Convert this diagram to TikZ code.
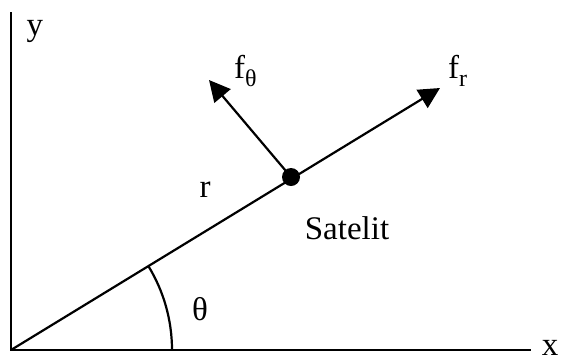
\documentclass[tikz,border=0pt]{standalone}
\usepackage{fontspec}
\setmainfont{Liberation Serif}
\usetikzlibrary{arrows.meta}
\begin{document}
\begin{tikzpicture}[x=1pt,y=-1pt,
  lbl/.style={inner sep=0pt,font=\fontsize{33}{40}\selectfont},
  axis/.style={line width=2.8pt},
  vec/.style={line width=2.2pt,-{Triangle[length=21pt,width=21pt]}}]
\useasboundingbox (0,0) rectangle (563,360);
\coordinate (O) at (11,350);
\coordinate (ytop) at (11,12);
\coordinate (xend) at (531,350);
\coordinate (frtip) at (440,88);
\coordinate (fttip) at (209,80);
\coordinate (arcstart) at (172,350);
\node[circle,fill=black,inner sep=0pt,minimum size=18pt] (sat) at (291,177) {};
\draw[axis] (ytop) -- (O) -- (xend);
\draw[vec] (O) -- (frtip);
\draw[vec] (sat.center) -- (fttip);
\draw[line width=2.2pt] (arcstart) arc[start angle=0,end angle=-31.5,radius=161];
\node[lbl] (ylab) at (35,31) {y};
\node[lbl] (xlab) at (550,348) {x};
\node[lbl] (rlab) at (205,190) {r};
\node[lbl] (satlab) at (347,228) {Satelit};
\node[lbl] (thlab) at (200,309) {θ};
\node[lbl,anchor=base west] (ftlab) at (234,78) {f\raisebox{-0.25em}{\fontsize{24}{24}\selectfont θ}};
\node[lbl,anchor=base west] (frlab) at (448,78) {f\raisebox{-0.25em}{\fontsize{24}{24}\selectfont r}};
\end{tikzpicture}
\end{document}
